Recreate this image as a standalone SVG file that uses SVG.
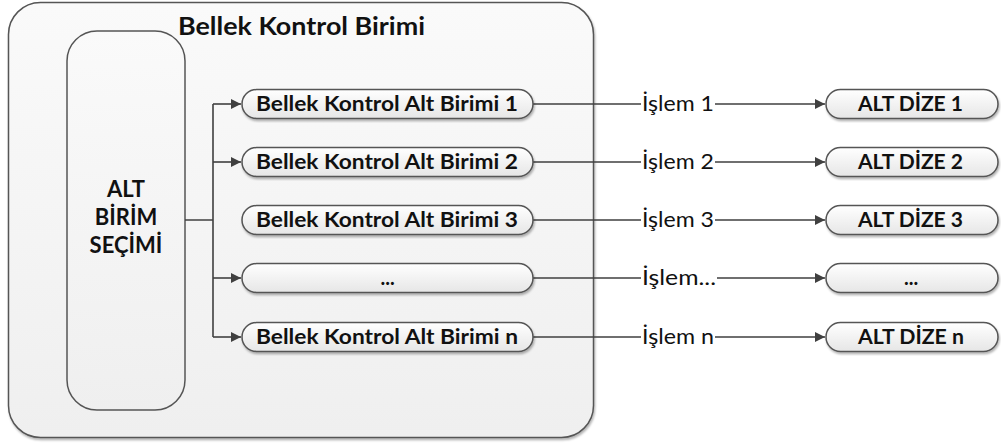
<svg xmlns="http://www.w3.org/2000/svg" width="1001" height="443" viewBox="0 0 1001 443">
<defs>
<linearGradient id="gOuter" x1="0" y1="0" x2="0" y2="1"><stop offset="0" stop-color="#fafafa"/><stop offset="1" stop-color="#efefef"/></linearGradient>
<linearGradient id="gPill" x1="0" y1="0" x2="0" y2="1"><stop offset="0" stop-color="#ffffff"/><stop offset="1" stop-color="#e6e6e6"/></linearGradient>
<filter id="sh" x="-5%" y="-5%" width="110%" height="120%"><feDropShadow dx="1" dy="2" stdDeviation="1.2" flood-color="#000" flood-opacity="0.3"/></filter>
<marker id="ah" viewBox="0 0 10 10" refX="10" refY="5" markerWidth="10" markerHeight="10" markerUnits="userSpaceOnUse" orient="auto"><path d="M0,0 L10,5 L0,10 z" fill="#404040"/></marker>
<style>
.box{stroke:#555;stroke-width:1.5}
.pill{fill:url(#gPill);stroke:#555;stroke-width:1.5;filter:url(#sh)}
.t{font-family:Lato,"Liberation Sans",sans-serif;fill:#111}
.b{font-weight:bold}
.c{fill:none;stroke:#404040;stroke-width:1.6}
</style>
</defs>
<g id="outer"><rect x="8.5" y="2.5" width="585" height="435" rx="32" fill="url(#gOuter)" class="box" filter="url(#sh)"/>
<text class="t b" x="178" y="35" font-size="24" textLength="247" lengthAdjust="spacingAndGlyphs">Bellek Kontrol Birimi</text></g>
<g id="secim"><rect x="67" y="31" width="118" height="379" rx="30" fill="url(#gOuter)" class="box"/>
<text class="t b" font-size="22" text-anchor="middle"><tspan x="126" y="197">ALT</tspan><tspan x="126" y="225">BİRİM</tspan><tspan x="126" y="253">SEÇİMİ</tspan></text></g>
<g id="connectors">
<path class="c" d="M185,220 H213 M213,104 V337"/>
<path class="c" d="M213,104 H241" marker-end="url(#ah)"/>
<path class="c" d="M213,162 H241" marker-end="url(#ah)"/>
<path class="c" d="M213,278 H241" marker-end="url(#ah)"/>
<path class="c" d="M213,337 H241" marker-end="url(#ah)"/>
<path class="c" d="M533,104 H641 M715,104 H825" marker-end="url(#ah)"/>
<path class="c" d="M533,162 H641 M715,162 H825" marker-end="url(#ah)"/>
<path class="c" d="M533,220 H641 M715,220 H825" marker-end="url(#ah)"/>
<path class="c" d="M533,278 H641 M717,278 H825" marker-end="url(#ah)"/>
<path class="c" d="M533,337 H641 M715,337 H825" marker-end="url(#ah)"/>
<g class="t" font-size="21">
<text x="642" y="111" textLength="72" lengthAdjust="spacingAndGlyphs">İşlem 1</text>
<text x="642" y="169" textLength="72" lengthAdjust="spacingAndGlyphs">İşlem 2</text>
<text x="642" y="227" textLength="72" lengthAdjust="spacingAndGlyphs">İşlem 3</text>
<text x="642" y="285" textLength="74" lengthAdjust="spacingAndGlyphs">İşlem...</text>
<text x="642" y="344" textLength="72" lengthAdjust="spacingAndGlyphs">İşlem n</text>
</g>
</g>
<g id="alt1"><rect x="242" y="89.5" width="291" height="29" rx="14.5" class="pill"/><text class="t b" x="256" y="111" font-size="20" textLength="262" lengthAdjust="spacingAndGlyphs">Bellek Kontrol Alt Birimi 1</text></g>
<g id="alt2"><rect x="242" y="147.5" width="291" height="29" rx="14.5" class="pill"/><text class="t b" x="256" y="169" font-size="20" textLength="262" lengthAdjust="spacingAndGlyphs">Bellek Kontrol Alt Birimi 2</text></g>
<g id="alt3"><rect x="242" y="205.5" width="291" height="29" rx="14.5" class="pill"/><text class="t b" x="256" y="227" font-size="20" textLength="262" lengthAdjust="spacingAndGlyphs">Bellek Kontrol Alt Birimi 3</text></g>
<g id="altdots"><rect x="242" y="263.5" width="291" height="29" rx="14.5" class="pill"/><text class="t b" x="387.5" y="285" font-size="20" text-anchor="middle">...</text></g>
<g id="altn"><rect x="242" y="322.5" width="291" height="29" rx="14.5" class="pill"/><text class="t b" x="256" y="344" font-size="20" textLength="262" lengthAdjust="spacingAndGlyphs">Bellek Kontrol Alt Birimi n</text></g>
<g id="dize1"><rect x="826" y="89.5" width="172" height="29" rx="14.5" class="pill"/><text class="t b" x="858" y="111" font-size="20" textLength="105" lengthAdjust="spacingAndGlyphs">ALT DİZE 1</text></g>
<g id="dize2"><rect x="826" y="147.5" width="172" height="29" rx="14.5" class="pill"/><text class="t b" x="858" y="169" font-size="20" textLength="105" lengthAdjust="spacingAndGlyphs">ALT DİZE 2</text></g>
<g id="dize3"><rect x="826" y="205.5" width="172" height="29" rx="14.5" class="pill"/><text class="t b" x="858" y="227" font-size="20" textLength="105" lengthAdjust="spacingAndGlyphs">ALT DİZE 3</text></g>
<g id="dizedots"><rect x="826" y="263.5" width="172" height="29" rx="14.5" class="pill"/><text class="t b" x="911" y="285" font-size="20" text-anchor="middle">...</text></g>
<g id="dizen"><rect x="826" y="322.5" width="172" height="29" rx="14.5" class="pill"/><text class="t b" x="858" y="344" font-size="20" textLength="106" lengthAdjust="spacingAndGlyphs">ALT DİZE n</text></g>
</svg>
